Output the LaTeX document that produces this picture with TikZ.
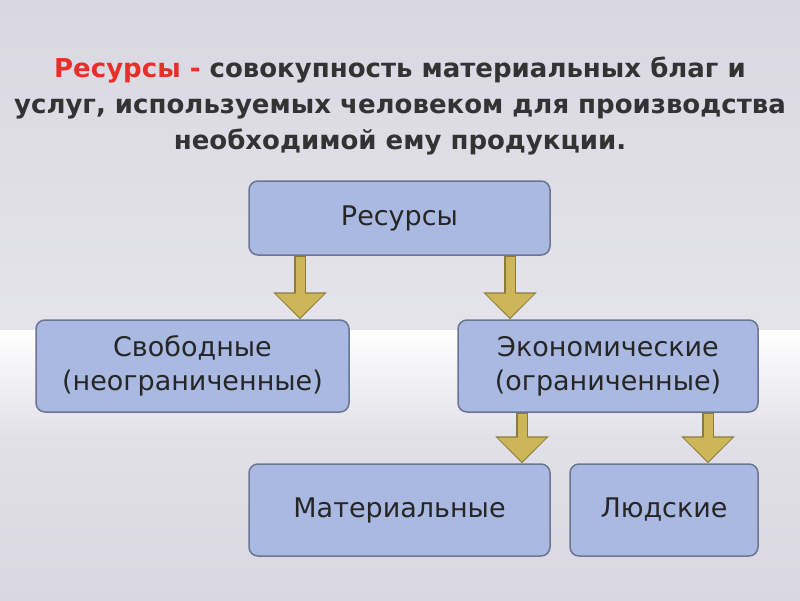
\documentclass[tikz,border=0pt]{standalone}
\usepackage{fontspec}
\setmainfont{DejaVu Sans}
\usetikzlibrary{arrows.meta}
\definecolor{boxf}{HTML}{A9B9E2}
\definecolor{boxd}{HTML}{6B7591}
\definecolor{gold}{HTML}{CDB65A}
\definecolor{goldd}{HTML}{8C7A35}
\definecolor{bgtop}{HTML}{D9D8E2}
\definecolor{redt}{HTML}{E8302A}
\tikzset{
 box/.style={draw=boxd,line width=1.5pt,fill=boxf,rounded corners=9pt,font=\fontsize{27}{34}\selectfont,align=center,inner sep=0pt,text=black!85},
 barr/.style={line width=12pt,draw=goldd,-{Triangle[width=52pt,length=27pt]}},
 barri/.style={line width=9pt,draw=gold,-{Triangle[width=47pt,length=24pt]},shorten >=1.6pt,shorten <=1.5pt}
}
\begin{document}
\begin{tikzpicture}[x=1pt,y=-1pt]
\useasboundingbox (0,0) rectangle (800,600);
\shade[top color=bgtop,bottom color=bgtop!70!white] (0,0) rectangle (800,330);
\shade[top color=white,bottom color=bgtop!80!white] (0,330) rectangle (800,440);
\shade[top color=bgtop!80!white,bottom color=bgtop] (0,440) rectangle (800,600);
\node[font=\bfseries\fontsize{26}{36}\selectfont,align=center,text=black!80] (t) at (400,106)
 {\textcolor{redt}{Ресурсы -} совокупность материальных благ и\\услуг, используемых человеком для производства\\необходимой ему продукции.};
\node[box,minimum width=301pt,minimum height=74pt] (r) at (399.5,218) {Ресурсы};
\node[box,minimum width=313pt,minimum height=92pt] (s) at (192.5,366) {Свободные\\(неограниченные)};
\node[box,minimum width=300pt,minimum height=92pt] (e) at (608,366) {Экономические\\(ограниченные)};
\node[box,minimum width=301pt,minimum height=92pt] (m) at (399.5,510) {Материальные};
\node[box,minimum width=188pt,minimum height=92pt] (l) at (664,510) {Людские};
\foreach \a/\b/\x in {r/s/300,r/e/510,e/m/522,e/l/708}{
 \draw[barr] (\x,0 |- \a.south) -- (\x,0 |- \b.north);
 \draw[barri] (\x,0 |- \a.south) -- (\x,0 |- \b.north);
}
\end{tikzpicture}
\end{document}
